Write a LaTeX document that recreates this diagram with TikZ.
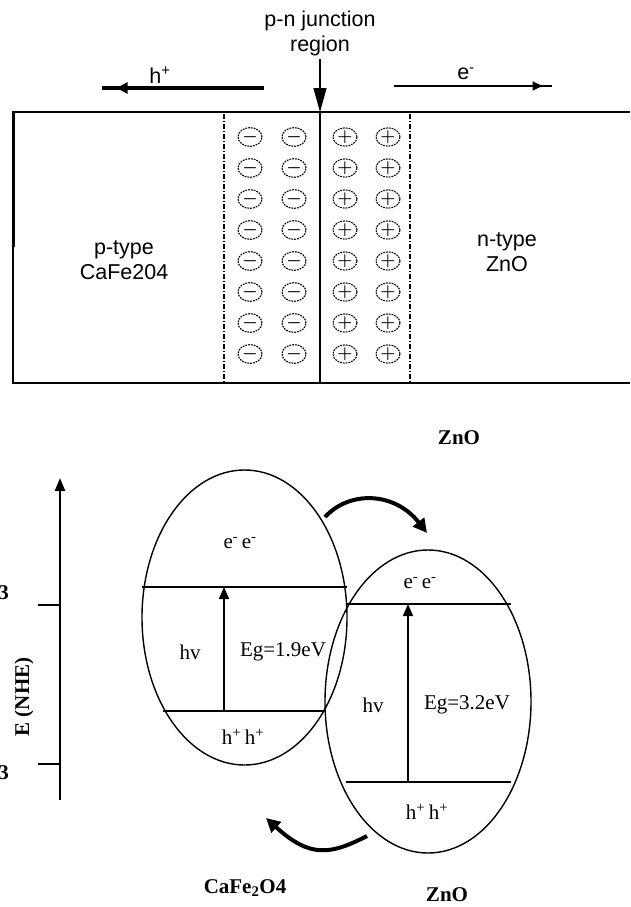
\documentclass[tikz,border=0pt]{standalone}
\usepackage{fontspec}
\setmainfont{Liberation Serif}
\newfontfamily\arial{Liberation Sans}
\usetikzlibrary{arrows.meta,shapes.geometric,decorations.markings}

\begin{document}
\begin{tikzpicture}[x=1pt, y=-1pt, font=\fontsize{21}{25}\selectfont]

% Fix the page to the size of the figure
\useasboundingbox (0,0) rectangle (630,907);

% Define styles for the junction part
\tikzstyle{sans} = [font=\arial\fontsize{21.5}{25}\selectfont, align=center]
\tikzstyle{ion} = [draw, ellipse, line width=1.1pt, dash pattern=on 1.8pt off 1pt, minimum width=24pt, minimum height=16pt, inner sep=0pt, font=\fontsize{19}{19}\selectfont\boldmath]
\tikzstyle{edge} = [dash pattern=on 5pt off 2pt on 1pt off 2pt, line width=1.1pt]
\tikzstyle{wall} = [line width=1.4pt]

% Define styles for the band part
\tikzstyle{band} = [draw, ellipse, line width=1.4pt, inner sep=0pt]
\tikzstyle{bold} = [font=\bfseries\fontsize{21}{25}\selectfont]
\tikzstyle{jump} = [line width=1.5pt, -{Triangle[length=12pt,width=10pt]}]
\tikzstyle{flow} = [line width=4pt, -{Triangle[length=14pt,width=14pt]}]

% Junction box
\draw[wall] (630,112) -- (13,112) -- (13,383) -- (630,383);
\draw[line width=3pt] (13,112) -- (13,247);
\draw[wall] (320,112) -- (320,383);
\draw[edge] (224,114) -- (224,383);
\draw[edge] (410,114) -- (410,383);

\node[sans] (ptype) at (124,260) {p-type\\CaFe204};
\node[sans] (ntype) at (507,252) {n-type\\ZnO};

% Fixed charges in the depletion region
\foreach \r in {0,...,7} {
    \node[ion] (neg-\r-a) at (250,{137+31*\r}) {$-$};
    \node[ion] (neg-\r-b) at (294,{137+31*\r}) {$-$};
    \node[ion] (pos-\r-a) at (345,{137+31*\r}) {$+$};
    \node[ion] (pos-\r-b) at (388,{137+31*\r}) {$+$};
}

% Junction label and carrier arrows
\node[sans] (junc) at (320,33) {p-n junction\\region};
\coordinate (jtip) at (320,112);
\draw[line width=1.3pt, -{Triangle[length=24pt,width=13pt]}] (junc.south) -- (jtip);

\node[sans] (hplus) at (160,75) {h\textsuperscript{+}};
\coordinate (hstart) at (264,88);
\coordinate (hend) at (102,88);
\draw[line width=4pt, postaction=decorate,
    decoration={markings, mark=at position 0.91 with {\arrow{Triangle[length=11pt,width=11pt]}}}]
    (hstart) -- (hend);

\node[sans] (eminus) at (466,74) {e\textsuperscript{-}};
\coordinate (estart) at (394,86);
\coordinate (eend) at (552,86);
\draw[line width=1.7pt, postaction=decorate,
    decoration={markings, mark=at position 0.94 with {\arrow{Triangle[length=10pt,width=9pt]}}}]
    (estart) -- (eend);

\node[bold] (znotop) at (459,438) {ZnO};

% Energy axis
\coordinate (ybot) at (60,800);
\coordinate (ytop) at (60,478);
\draw[line width=2.5pt, -{Triangle[length=13pt,width=10pt]}] (ybot) -- (ytop);
\draw[line width=2pt] (38,605) -- (60,605);
\draw[line width=2pt] (38,764) -- (60,764);
\node[bold, anchor=east, inner sep=0pt] (tickhi) at (9,593) {3};
\node[bold, anchor=east, inner sep=0pt] (ticklo) at (9,773) {3};
\node[bold, rotate=90] (elabel) at (24,697) {E (NHE)};

% CaFe2O4 bands
\node[band, minimum width=205pt, minimum height=295pt] (cafe) at (244.5,617.5) {};
\draw[line width=1.4pt] (142,587) -- (347,587);
\draw[line width=1.4pt] (163,711) -- (325,711);
\draw[jump] (224,711) -- (224,587);
\node (cafee) at (240,543) {e\textsuperscript{-}\,e\textsuperscript{-}};
\node (cafehv) at (190,652) {hv};
\node (cafeeg) at (283,652) {Eg=1.9eV};
\node (cafeh) at (243,737) {h\textsuperscript{+}\,h\textsuperscript{+}};

% ZnO bands
\node[band, minimum width=206pt, minimum height=303pt] (zno) at (428,701.5) {};
\draw[line width=1.4pt] (347,604) -- (511,604);
\draw[line width=1.4pt] (346,782) -- (511,782);
\draw[jump] (408,782) -- (408,604);
\node (znoe) at (420,583) {e\textsuperscript{-}\,e\textsuperscript{-}};
\node (znohv) at (373,705) {hv};
\node (znoeg) at (467,705) {Eg=3.2eV};
\node (znoh) at (427,812) {h\textsuperscript{+}\,h\textsuperscript{+}};

% Charge transfer arrows
\coordinate (up1) at (325,517);
\coordinate (up2) at (427,533);
\draw[flow] (up1) .. controls (350,490) and (395,492) .. (up2);
\coordinate (dn1) at (367,836);
\coordinate (dn2) at (266,818);
\draw[flow] (dn1) .. controls (330,855) and (310,858) .. (dn2);

\node[bold] (cafelbl) at (245,888) {CaFe\textsubscript{2}O4};
\node[bold] (znolbl) at (447,895) {ZnO};

\end{tikzpicture}
\end{document}
